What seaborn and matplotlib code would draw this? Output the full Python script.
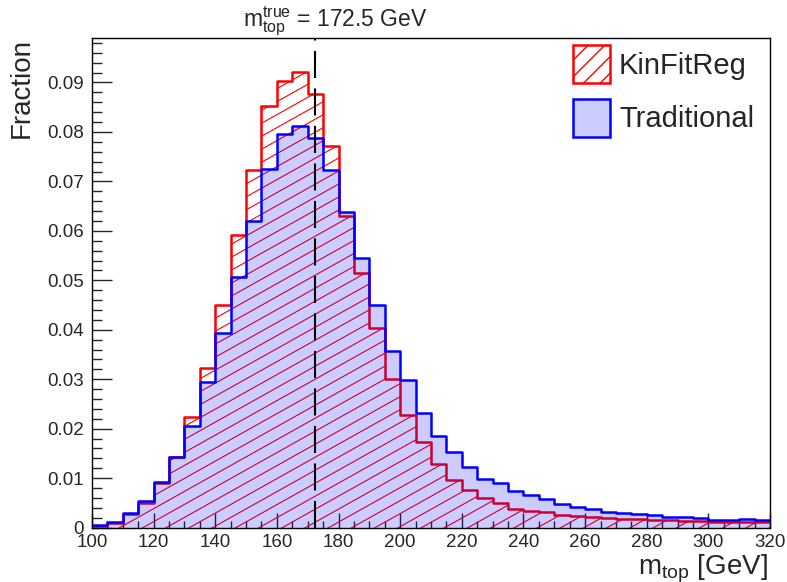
import numpy as np
import pandas as pd
import matplotlib
matplotlib.use("Agg")
import matplotlib.pyplot as plt
import seaborn as sns
from matplotlib.collections import LineCollection
from matplotlib.ticker import MultipleLocator, FuncFormatter

# bin edges: 100..320 GeV in 5 GeV steps
bin_lo = 100
bin_hi = 320
bin_w = 5
m_true = 172.5

kinfitreg = [0.0004, 0.0010, 0.0027, 0.0049, 0.0089, 0.0142, 0.0224, 0.0323, 0.0450,
             0.0592, 0.0724, 0.0852, 0.0903, 0.0922, 0.0876, 0.0771, 0.0631, 0.0514,
             0.0404, 0.0301, 0.0228, 0.0173, 0.0128, 0.0097, 0.0075, 0.0060, 0.0049,
             0.0038, 0.0034, 0.0032, 0.0026, 0.0023, 0.0022, 0.0019, 0.0018, 0.0017,
             0.0016, 0.0015, 0.0014, 0.0013, 0.0012, 0.0012, 0.0011, 0.0011]
traditional = [0.0005, 0.0012, 0.0030, 0.0053, 0.0092, 0.0143, 0.0205, 0.0295, 0.0393,
               0.0507, 0.0619, 0.0725, 0.0795, 0.0813, 0.0788, 0.0724, 0.0639, 0.0545,
               0.0450, 0.0357, 0.0299, 0.0232, 0.0186, 0.0153, 0.0122, 0.0099, 0.0091,
               0.0073, 0.0065, 0.0057, 0.0048, 0.0041, 0.0038, 0.0032, 0.0030, 0.0028,
               0.0026, 0.0021, 0.0021, 0.0019, 0.0016, 0.0016, 0.0017, 0.0015]

edges = list(range(bin_lo, bin_hi + bin_w, bin_w))
centers = [e + bin_w / 2 for e in edges[:-1]]
df = pd.DataFrame({"m": centers, "kin": kinfitreg, "trad": traditional})

sns.set_style("ticks")
plt.rcParams["font.family"] = ["Liberation Sans", "DejaVu Sans"]
plt.rcParams["mathtext.fontset"] = "custom"
plt.rcParams["mathtext.rm"] = "Liberation Sans"
plt.rcParams["mathtext.it"] = "Liberation Sans:italic"
plt.rcParams["hatch.linewidth"] = 1.0

fig = plt.figure(figsize=(7.87, 5.82), dpi=100)
ax = fig.add_axes([92 / 787, 1 - 527.5 / 582, 678 / 787, 489.5 / 582])
ax.set_xlim(bin_lo, bin_hi)
ax.set_ylim(0, 0.099)

hist_kw = dict(x="m", bins=edges, element="step", ax=ax, legend=False)

# KinFitReg: invisible fill used as clip region for ROOT-like hatching, then outline
sns.histplot(data=df, weights="kin", fill=True, color="red", facecolor="none",
             edgecolor="none", linewidth=0, zorder=1.0, **hist_kw)
kin_poly = ax.collections[-1]

# ROOT style 3004-ish hatch: shallow diagonal lines, clipped to the histogram
w_px, h_px = ax.bbox.width, ax.bbox.height
slope, gap = 0.56, 13.0
offsets = np.arange(-slope * w_px, h_px + gap, gap)
segs = [[(0, c / h_px), (1, (c + slope * w_px) / h_px)] for c in offsets]
hatch = LineCollection(segs, transform=ax.transAxes, colors="red", linewidths=0.8, zorder=1.1)
ax.add_collection(hatch, autolim=False)
hatch.set_clip_path(kin_poly.get_paths()[0], ax.transData)

sns.histplot(data=df, weights="kin", fill=False, color="red", linewidth=1.8, zorder=1.2, **hist_kw)
# Traditional: translucent blue fill + blue outline
sns.histplot(data=df, weights="trad", fill=True, color="blue", facecolor=(0, 0, 1, 0.2),
             edgecolor="none", linewidth=0, zorder=1.3, **hist_kw)
sns.histplot(data=df, weights="trad", fill=False, color="blue", linewidth=1.8, zorder=1.4, **hist_kw)

ax.axvline(m_true, color="black", linewidth=1.5, dashes=(13, 5), zorder=1.5)

ax.set_xlim(bin_lo, bin_hi)
ax.set_ylim(0, 0.099)
ax.xaxis.set_major_locator(MultipleLocator(20))
ax.xaxis.set_minor_locator(MultipleLocator(5))
ax.yaxis.set_major_locator(MultipleLocator(0.01))
ax.yaxis.set_minor_locator(MultipleLocator(0.002))
ax.yaxis.set_major_formatter(FuncFormatter(lambda v, p: "0" if abs(v) < 1e-9 else f"{v:.2f}"))
ax.tick_params(which="both", direction="in", top=False, right=False, labelsize=13.5, width=1)
ax.tick_params(axis="y", which="major", length=14.4, pad=6)
ax.tick_params(axis="y", which="minor", length=7.2)
ax.tick_params(axis="x", which="major", length=11, pad=5)
ax.tick_params(axis="x", which="minor", length=5)
for s in ax.spines.values():
    s.set_linewidth(1.0)
    s.set_color("black")

ax.set_ylabel("Fraction", fontsize=20, loc="top")
ax.yaxis.set_label_coords(-0.084, 1.0)
ax.set_xlabel(r"$\mathrm{m}_{\mathrm{top}}$ [GeV]", fontsize=20, loc="right")
ax.xaxis.set_label_coords(1.0 - 2 / 678, -0.051)

fig.text(243 / 787, 1 - 26.7 / 582, r"$\mathrm{m}_{\mathrm{top}}^{\mathrm{true}}$ = 172.5 GeV",
         fontsize=16.5, ha="left", va="baseline")

handles = [
    matplotlib.patches.Patch(facecolor="white", edgecolor="red", hatch="//", linewidth=1.8, label="KinFitReg"),
    matplotlib.patches.Patch(facecolor=(0.8, 0.8, 1.0), edgecolor="blue", linewidth=1.8, label="Traditional"),
]
fig.legend(handles=handles, loc="upper left", bbox_to_anchor=(573 / 787, 1 - 45 / 582),
           frameon=False, fontsize=21, borderpad=0, borderaxespad=0,
           handlelength=1.28, handleheight=1.63, handletextpad=0.3, labelspacing=0.53)

fig.savefig("out.png", dpi=100)
